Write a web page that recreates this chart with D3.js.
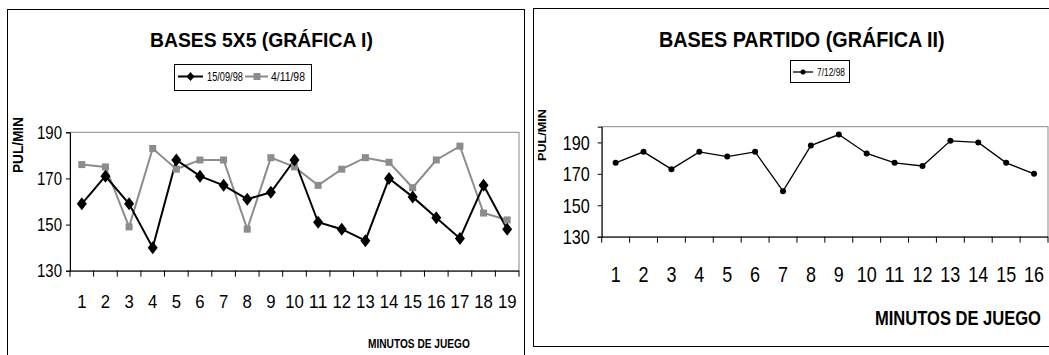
<!DOCTYPE html>
<html><head><meta charset="utf-8">
<script src="https://cdn.jsdelivr.net/npm/d3@7"></script>
<style>
body{margin:0;background:#fff}
svg{display:block}
text{font-family:"Liberation Sans",Arial,sans-serif;fill:#000}
</style>
</head><body>
<svg id="c" width="1049" height="355"></svg>
<script>
// ---------- DATA ----------
const minutes1 = ["1","2","3","4","5","6","7","8","9","10","11","12","13","14","15","16","17","18","19"];
const serie150998 = [159,171,159,140,178,171,167,161,164,178,151,148,143,170,162,153,144,167,148];
const serie41198  = [176,175,149,183,174,178,178,148,179,175,167,174,179,177,166,178,184,155,152];
const yTicks1 = [130,150,170,190];

const minutes2 = ["1","2","3","4","5","6","7","8","9","10","11","12","13","14","15","16"];
const serie71298 = [177,184,173,184,181,184,159,188,195,183,177,175,191,190,177,170];
const yTicks2 = [130,150,170,190];

const legend1 = ["15/09/98","4/11/98"];
const legend2 = ["7/12/98"];
const GRAY = "#8c8c8c";

const svg = d3.select("#c");
svg.append("rect").attr("width",1049).attr("height",355).attr("fill","#fff");

function squeeze(sel, len){ sel.attr("textLength",len).attr("lengthAdjust","spacingAndGlyphs"); }
// condensed text: horizontally scaled to a target width
function fitText(x, y, str, size, weight, width, rot){
  const t = svg.append("text").attr("font-size",size).attr("font-weight",weight||"normal").text(str);
  const w = t.node().getComputedTextLength();
  const s = width / w;
  t.attr("transform",`translate(${x},${y})${rot?" rotate(-90)":""} scale(${s},1)`);
  return t;
}

// ---------- frames ----------
svg.append("rect").attr("x",7.5).attr("y",9.5).attr("width",517).attr("height",360)
  .attr("fill","none").attr("stroke","#000").attr("stroke-width",1);
svg.append("rect").attr("x",533.5).attr("y",8.5).attr("width",530).attr("height",338)
  .attr("fill","none").attr("stroke","#000").attr("stroke-width",1);

function drawChart(cfg){
  const g = svg.append("g");
  const x = d3.scaleBand().domain(cfg.cats).range([cfg.x0,cfg.x1]);
  const y = d3.scaleLinear().domain(cfg.ydom).range([cfg.y1,cfg.y0]);
  g.append("rect").attr("x",cfg.x0).attr("y",y(cfg.ydom[1])).attr("width",cfg.x1-cfg.x0)
    .attr("height",y(cfg.ydom[0])-y(cfg.ydom[1])).attr("fill","none").attr("stroke","#888").attr("stroke-width",1);
  const ya = g.append("g").attr("transform",`translate(${cfg.x0},0)`)
    .call(d3.axisLeft(y).tickValues(cfg.yticks).tickSize(4).tickPadding(cfg.ypad).tickFormat(d3.format("d")));
  ya.select(".domain").attr("stroke","#000");
  ya.selectAll("text").attr("font-size",cfg.yfs).attr("font-family",null).each(function(){ squeeze(d3.select(this), cfg.ylen); });
  const xa = g.append("g").attr("transform",`translate(0,${cfg.y1})`)
    .call(d3.axisBottom(x).tickSize(0).tickPadding(0));
  xa.select(".domain").attr("stroke","#000").attr("d",`M${cfg.x0},0.5H${cfg.x1}`);
  xa.selectAll("text").attr("font-size",cfg.xfs).attr("font-family",null).attr("y",cfg.xbase).attr("dy",null)
    .each(function(d){ squeeze(d3.select(this), d.length*cfg.xdig); });
  const bounds = cfg.cats.map(c=>x(c)).concat([x(cfg.cats[cfg.cats.length-1])+x.bandwidth()]);
  g.selectAll(".bt").data(bounds).join("line").attr("x1",d=>d).attr("x2",d=>d)
    .attr("y1",cfg.y1).attr("y2",cfg.y1+6).attr("stroke","#000");
  return {g,x,y};
}

// ---------- LEFT CHART ----------
const L = drawChart({cats:minutes1, x0:70, x1:519, y0:132.3, y1:270.7, ydom:[130,190], yticks:yTicks1,
  ypad:4, yfs:19, ylen:25, xfs:19, xbase:37, xdig:9.3});
const cx1 = d => L.x(d)+L.x.bandwidth()/2;
const line1 = d3.line().x((d,i)=>cx1(minutes1[i])).y(d=>L.y(d));
L.g.append("path").datum(serie41198).attr("d",line1).attr("fill","none").attr("stroke",GRAY).attr("stroke-width",2);
L.g.append("path").datum(serie150998).attr("d",line1).attr("fill","none").attr("stroke","#000").attr("stroke-width",2);
L.g.selectAll(".sq").data(serie41198).join("rect")
  .attr("x",(d,i)=>cx1(minutes1[i])-3.5).attr("y",d=>L.y(d)-3.5).attr("width",7).attr("height",7).attr("fill",GRAY);
const diamond = (cx,cy,w,h)=>`M${cx},${cy-h}L${cx+w},${cy}L${cx},${cy+h}L${cx-w},${cy}Z`;
L.g.selectAll(".dm").data(serie150998).join("path")
  .attr("d",(d,i)=>diamond(cx1(minutes1[i]),L.y(d),5,6.5)).attr("fill","#000");

fitText(150, 47, "BASES 5X5 (GRÁFICA I)", 21, "bold", 223);
svg.append("rect").attr("x",174.5).attr("y",64.5).attr("width",137).attr("height",26).attr("fill","#fff").attr("stroke","#000");
svg.append("line").attr("x1",178).attr("x2",203).attr("y1",76.5).attr("y2",76.5).attr("stroke","#000").attr("stroke-width",2);
svg.append("path").attr("d",diamond(190.5,76.5,4,4.5)).attr("fill","#000");
fitText(207, 80.5, legend1[0], 12, "normal", 36);
svg.append("line").attr("x1",245).attr("x2",268).attr("y1",76.5).attr("y2",76.5).attr("stroke",GRAY).attr("stroke-width",2);
svg.append("rect").attr("x",253.5).attr("y",73).attr("width",7).attr("height",7).attr("fill",GRAY);
fitText(271, 80.5, legend1[1], 12, "normal", 34);
fitText(22.5, 173, "PUL/MIN", 15, "bold", 56, true);
fitText(368, 348, "MINUTOS DE JUEGO", 13, "bold", 102);

// ---------- RIGHT CHART ----------
const R = drawChart({cats:minutes2, x0:601.7, x1:1048, y0:126.7, y1:236.7, ydom:[130,200], yticks:yTicks2,
  ypad:8, yfs:21, ylen:27, xfs:22, xbase:45, xdig:10});
const cx2 = d => R.x(d)+R.x.bandwidth()/2;
const line2 = d3.line().x((d,i)=>cx2(minutes2[i])).y(d=>R.y(d));
R.g.append("path").datum(serie71298).attr("d",line2).attr("fill","none").attr("stroke","#000").attr("stroke-width",1.3);
R.g.selectAll(".pt").data(serie71298).join("circle")
  .attr("cx",(d,i)=>cx2(minutes2[i])).attr("cy",d=>R.y(d)).attr("r",3).attr("fill","#000");

fitText(659, 47, "BASES PARTIDO (GRÁFICA II)", 22, "bold", 286);
svg.append("rect").attr("x",790.5).attr("y",60.5).attr("width",59).attr("height",22).attr("fill","#fff").attr("stroke","#000");
svg.append("line").attr("x1",793).attr("x2",813).attr("y1",72).attr("y2",72).attr("stroke","#000").attr("stroke-width",1.3);
svg.append("circle").attr("cx",803).attr("cy",72).attr("r",2.5).attr("fill","#000");
fitText(817, 75.5, legend2[0], 11, "normal", 28);
fitText(545.5, 161, "PUL/MIN", 10, "bold", 52, true);
fitText(875, 325, "MINUTOS DE JUEGO", 21, "bold", 166);
</script>
</body></html>
